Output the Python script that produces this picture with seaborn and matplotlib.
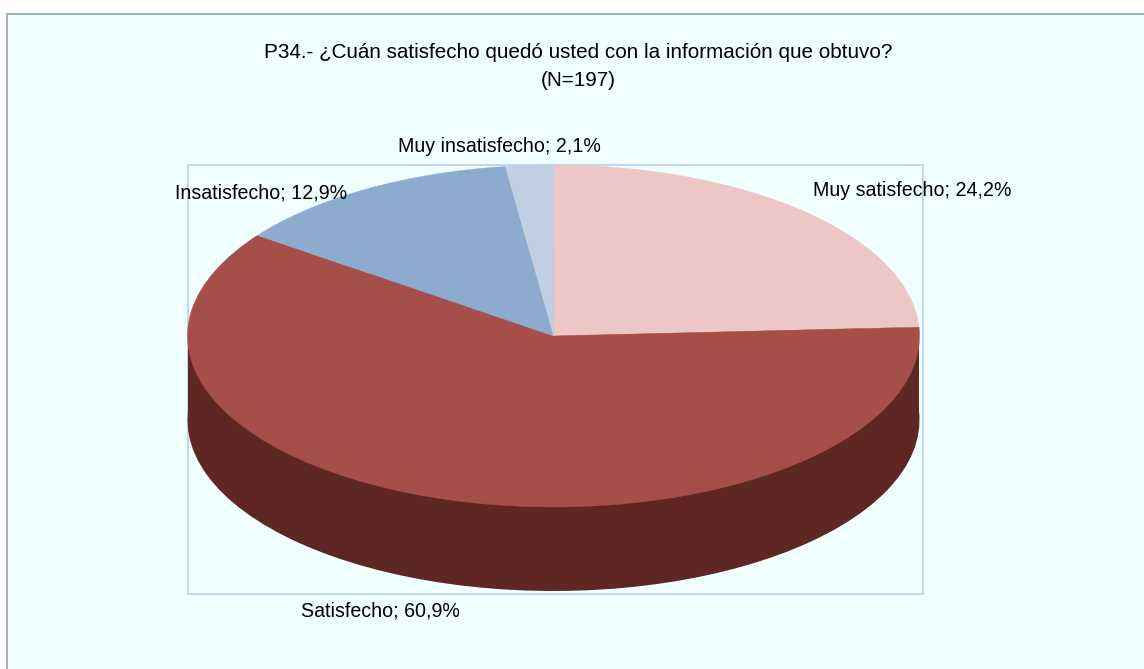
import matplotlib
matplotlib.use("Agg")
import matplotlib.pyplot as plt
from matplotlib.patches import Rectangle
import seaborn as sns

categorias = ["Muy satisfecho", "Satisfecho", "Insatisfecho", "Muy insatisfecho"]
valores = [24.2, 60.9, 12.9, 2.1]
titulo = "P34.- ¿Cuán satisfecho quedó usted con la información que obtuvo?\n(N=197)"

colores_top = ["#EDC6C6", "#A64F48", "#8DABCE", "#C0CFE2"]
colores_lado = ["#77605F", "#5E2723", "#465567", "#606871"]

W, H = 1144, 669
# posicion de cada etiqueta, en pixeles de la imagen
pos_etiquetas = [(912, 191), (380, 611), (261, 193), (499, 146)]

sns.set_theme(style="white")
plt.rcParams["font.family"] = ["Liberation Sans", "DejaVu Sans"]


def px(x, y):
    return x / W, 1 - y / H


def etiqueta(cat, val):
    return f"{cat}; {val:.1f}%".replace(".", ",")


fig = plt.figure(figsize=(W / 100, H / 100), dpi=100, facecolor="white")

# fondo y borde exterior (se sale por la derecha y por abajo)
x0, y0 = px(7, 14)
fig.add_artist(Rectangle((x0, -0.1), 1.1, y0 + 0.1, transform=fig.transFigure,
                         facecolor="#F0FFFF", edgecolor="#9CA8C2", linewidth=1.3, zorder=-1))

# area del grafico
izq, der, arriba, abajo = 187.5, 923, 165, 594
cx, cy, rx, ry, prof = 553.5, 336, 366, 171, 84
ax = fig.add_axes([izq / W, 1 - abajo / H, (der - izq) / W, (abajo - arriba) / H])
ax.patch.set_visible(False)

# lateral: pie oscuro desplazado mas una banda, luego la cara superior
ax.pie(valores, colors=sns.color_palette(colores_lado), startangle=90, counterclock=False,
       center=(0, -prof / ry), wedgeprops={"linewidth": 0, "clip_on": False})
ax.add_patch(Rectangle((-0.999, -prof / ry), 1.998, prof / ry, facecolor=colores_lado[1],
                       edgecolor="none", zorder=1))
wedges, _ = ax.pie(valores, colors=sns.color_palette(colores_top), startangle=90, counterclock=False,
                   wedgeprops={"linewidth": 0.3, "clip_on": False})
for w, c in zip(wedges, colores_top):
    w.set_edgecolor(c)
    w.set_zorder(3)

ax.set_aspect("auto")
ax.set_xlim((izq - cx) / rx, (der - cx) / rx)
ax.set_ylim((cy - abajo) / ry, (cy - arriba) / ry)
ax.set_frame_on(True)
for s in ax.spines.values():
    s.set_visible(True)
    s.set_color("#C4D4F0")
    s.set_linewidth(1.4)
    s.set_zorder(0)

# textos
tx, ty = px(578, 66)
fig.text(tx, ty, titulo, ha="center", va="center", fontsize=14.9, color="black",
         linespacing=1.6, zorder=10)
for cat, val, (ex, ey) in zip(categorias, valores, pos_etiquetas):
    tx, ty = px(ex, ey)
    fig.text(tx, ty, etiqueta(cat, val), ha="center", va="center", fontsize=14.1,
             color="black", zorder=10)

fig.savefig("out.png", dpi=100, facecolor="white")
